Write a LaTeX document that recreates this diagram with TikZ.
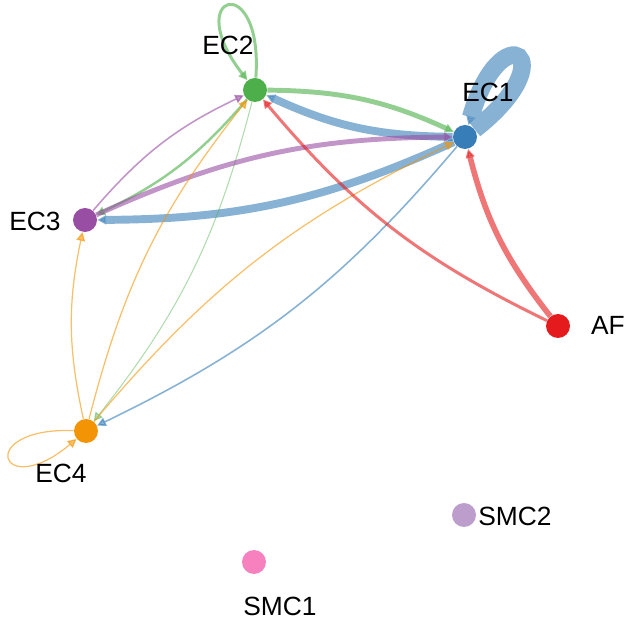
\documentclass[tikz,border=0pt]{standalone}
\usepackage{fontspec}
\setmainfont{Liberation Sans}
\usetikzlibrary{arrows.meta}

\definecolor{colAF}{HTML}{E41A1C}
\definecolor{colEC1}{HTML}{377EB8}
\definecolor{colEC2}{HTML}{4DAF4A}
\definecolor{colEC3}{HTML}{984EA3}
\definecolor{colEC4}{HTML}{F29403}
\definecolor{colSMC1}{HTML}{F781BF}
\definecolor{colSMC2}{HTML}{BC9DCC}

\begin{document}
\begin{tikzpicture}[x=0.02cm,y=0.02cm]
			\tikzstyle{every edge}=[draw,opacity=0.6,-{Triangle[length=5pt,width=5pt]}]
			\tikzstyle{cell}=[circle,inner sep=0pt,minimum size=0.48cm]
			\tikzstyle{lbl}=[font=\fontsize{15}{18}\selectfont]

			\useasboundingbox (0,0) rectangle (629,622);

			\node[cell,fill=colEC2] (ec2) at (255,532) {};
			\node[cell,fill=colEC1] (ec1) at (465,485) {};
			\node[cell,fill=colEC3] (ec3) at (85,402) {};
			\node[cell,fill=colAF] (af) at (558,296) {};
			\node[cell,fill=colEC4] (ec4) at (86,191) {};
			\node[cell,fill=colSMC2] (smc2) at (464,107) {};
			\node[cell,fill=colSMC1] (smc1) at (254,60) {};

			% from EC1
			\path (ec1) edge[color=colEC1,line width=10pt,out=38,in=74,distance=2.35cm] (ec1);
			\path (ec1) edge[color=colEC1,line width=4.5pt,bend left=12] (ec2);
			\path (ec1) edge[color=colEC1,line width=4.5pt,bend left=12] (ec3);
			\path (ec1) edge[color=colEC1,line width=0.9pt,bend left=12] (ec4);

			% from EC2
			\path (ec2) edge[color=colEC2,line width=1.7pt,out=86,in=128,distance=2.2cm] (ec2);
			\path (ec2) edge[color=colEC2,line width=2.8pt,bend left=12] (ec1);
			\path (ec2) edge[color=colEC2,line width=1.4pt,bend left=12] (ec3);
			\path (ec2) edge[color=colEC2,line width=0.6pt,opacity=0.45,bend left=12] (ec4);

			% from EC3
			\path (ec3) edge[color=colEC3,line width=2.8pt,bend left=12] (ec1);
			\path (ec3) edge[color=colEC3,line width=0.9pt,bend left=12] (ec2);

			% from EC4
			\path (ec4) edge[color=colEC4,line width=0.7pt,out=178,in=220,distance=2cm] (ec4);
			\path (ec4) edge[color=colEC4,line width=0.7pt,bend left=12] (ec3);
			\path (ec4) edge[color=colEC4,line width=0.7pt,bend left=12] (ec2);
			\path (ec4) edge[color=colEC4,line width=0.7pt,bend left=12] (ec1);

			% from AF
			\path (af) edge[color=colAF,line width=3.2pt,bend left=12] (ec1);
			\path (af) edge[color=colAF,line width=1.7pt,bend left=12] (ec2);

			\node[lbl] (ec2lbl) at (228,577) {EC2};
			\node[lbl] (ec1lbl) at (488,530) {EC1};
			\node[lbl] (ec3lbl) at (35,401) {EC3};
			\node[lbl] (aflbl) at (608,297) {AF};
			\node[lbl] (ec4lbl) at (61,149) {EC4};
			\node[lbl] (smc2lbl) at (515,106) {SMC2};
			\node[lbl] (smc1lbl) at (280,16) {SMC1};
\end{tikzpicture}
\end{document}
